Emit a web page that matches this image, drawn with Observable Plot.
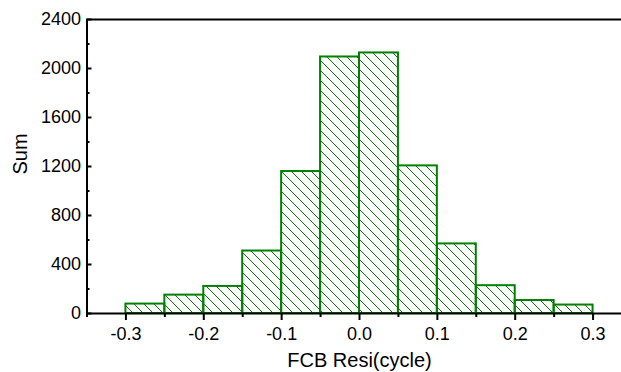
<!DOCTYPE html>
<html>
<head>
<meta charset="utf-8">
<script src="https://cdn.jsdelivr.net/npm/d3@7"></script>
<script src="https://cdn.jsdelivr.net/npm/@observablehq/plot@0.6"></script>
<style>
  html, body { margin: 0; padding: 0; background: #fff; overflow: hidden; }
</style>
</head>
<body>
<div id="chart"></div>
<script>
// Histogram of FCB residuals (cycles), bin width 0.05
const binStart = [-0.30, -0.25, -0.20, -0.15, -0.10, -0.05, 0.00, 0.05, 0.10, 0.15, 0.20, 0.25];
const binEnd   = [-0.25, -0.20, -0.15, -0.10, -0.05, 0.00, 0.05, 0.10, 0.15, 0.20, 0.25, 0.30];
const counts   = [77, 150, 221, 510, 1159, 2094, 2127, 1205, 568, 227, 106, 69];

// Axis ticks
const xMajorTicks = [-0.3, -0.2, -0.1, 0.0, 0.1, 0.2, 0.3];
const xMinorTicks = [-0.35, -0.25, -0.15, -0.05, 0.05, 0.15, 0.25, 0.35];
const yMajorTicks = [0, 400, 800, 1200, 1600, 2000, 2400];
const yMinorTicks = [200, 600, 1000, 1400, 1800, 2200];

const bins = binStart.map((x0, i) => ({x0, x1: binEnd[i], count: counts[i]}));
const green = "#008000";

const chart = Plot.plot({
  width: 621,
  height: 372,
  marginLeft: 86.5,
  marginRight: -10.5,
  marginTop: 19,
  marginBottom: 59,
  style: {
    fontFamily: "'Liberation Sans', Arial, sans-serif",
    fontSize: "18px",
    color: "#000",
    background: "#fff",
    overflow: "hidden"
  },
  x: {domain: [-0.35, 0.35]},
  y: {domain: [0, 2400]},
  marks: [
    Plot.rectY(bins, {x1: "x0", x2: "x1", y: "count", fill: "url(#hatch)", stroke: green, strokeWidth: 2}),
    Plot.ruleY([2400], {stroke: "#000", strokeWidth: 2}),
    Plot.ruleY([0], {stroke: "#000", strokeWidth: 2}),
    Plot.ruleX([-0.35], {stroke: "#000", strokeWidth: 2}),
    Plot.axisX(xMajorTicks, {tickSize: 7, tickPadding: 7, strokeWidth: 2, tickFormat: d => d.toFixed(1), label: null}),
    Plot.axisX(xMinorTicks, {tickSize: 4, strokeWidth: 2, tickFormat: () => "", label: null}),
    Plot.axisY(yMajorTicks, {tickSize: -5, tickPadding: 11, strokeWidth: 2, tickFormat: d => String(d), label: null}),
    Plot.axisY(yMinorTicks, {tickSize: -3, strokeWidth: 2, tickFormat: () => "", label: null}),
    Plot.text(["FCB Resi(cycle)"], {frameAnchor: "bottom", dy: 39, lineAnchor: "top", fontSize: 20}),
    Plot.text(["Sum"], {frameAnchor: "left", dx: -66.5, dy: 8, rotate: -90, lineAnchor: "middle", fontSize: 20})
  ]
});

// Diagonal hatch used to fill the bars
const pattern = d3.select(chart).insert("defs", ":first-child")
  .append("pattern")
  .attr("id", "hatch")
  .attr("patternUnits", "userSpaceOnUse")
  .attr("width", 10)
  .attr("height", 10);
pattern.append("path")
  .attr("d", "M0,0L10,10M-1,9L1,11M9,-1L11,1")
  .attr("stroke", green)
  .attr("stroke-width", 1)
  .attr("fill", "none");

document.getElementById("chart").appendChild(chart);
</script>
</body>
</html>
